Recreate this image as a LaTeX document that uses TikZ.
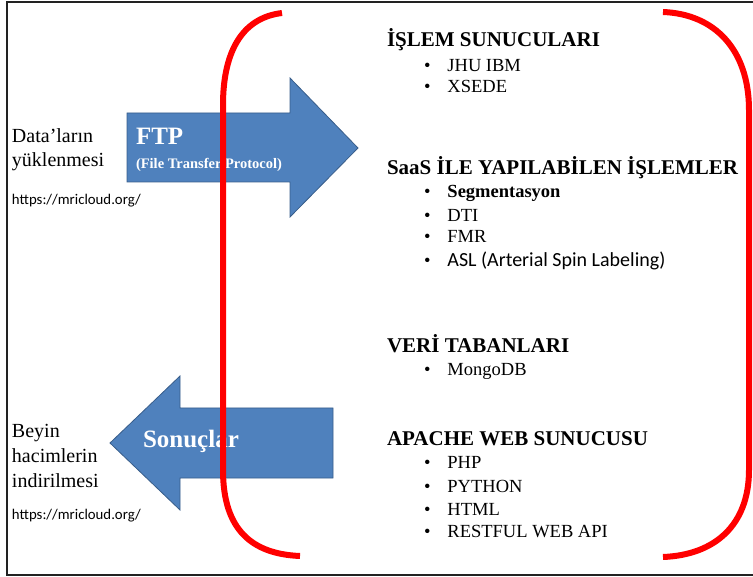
\documentclass[tikz,border=0pt]{standalone}
\usepackage{fontspec}
\setmainfont{Liberation Serif}
\newfontfamily\calib{Carlito}
\definecolor{arrowblue}{HTML}{4F81BD}
\definecolor{arrowedge}{HTML}{385D8A}
\definecolor{framegray}{HTML}{222222}
\newcommand{\bul}{•\hspace{17pt}}
\begin{document}
\begin{tikzpicture}[x=1pt,y=-1pt,
  txt/.style={anchor=base west,inner sep=0pt,outer sep=0pt},
  head/.style={txt,font=\fontsize{21}{24}\selectfont\bfseries},
  item/.style={txt,font=\fontsize{18.5}{22}\selectfont},
  side/.style={txt,font=\fontsize{20}{24}\selectfont},
  url/.style={txt,font=\calib\fontsize{14.8}{17}\selectfont},
  blk/.style={fill=arrowblue,draw=arrowedge,line width=0.8pt,line join=miter},
  brace/.style={draw=red,line width=6pt}]
\useasboundingbox (0,0) rectangle (753,577);
% frame
\draw[framegray,line width=2pt] (753,2) -- (7,2) -- (7,575) -- (753,575);
% blue arrows
\draw[blk] (127,113) -- (290,113) -- (290,78) -- (358,148) -- (290,217) -- (290,182) -- (127,182) -- cycle;
\draw[blk] (333,408) -- (180,408) -- (180,376) -- (110,443) -- (180,510) -- (180,478) -- (333,478) -- cycle;
\node[txt,text=white,font=\fontsize{25}{28}\selectfont\bfseries] (ftp) at (136,145) {FTP};
\node[txt,text=white,font=\fontsize{14.5}{16}\selectfont\bfseries] (ftpfull) at (136,169) {(File Transfer Protocol)};
\node[txt,text=white,font=\fontsize{25}{28}\selectfont\bfseries] (sonuc) at (143,448) {Sonuçlar};
% red brackets
\draw[brace] (282,13) .. controls (240,18) and (223,55) .. (223,105) -- (223,470) .. controls (223,530) and (252,554) .. (300,556);
\draw[brace] (663,12) .. controls (715,14) and (749,50) .. (749,110) -- (749,470) .. controls (749,525) and (715,555) .. (663,557);
% left texts
\node[side] (d1) at (12,143) {Data’ların};
\node[side] (d2) at (12,167) {yüklenmesi};
\node[url] (u1) at (12,205) {https://mricloud.org/};
\node[side] (b1) at (12,438) {Beyin};
\node[side] (b2) at (12,463) {hacimlerin};
\node[side] (b3) at (12,487) {indirilmesi};
\node[url] (u2) at (12,519) {https://mricloud.org/};
% right lists
\node[head] (h1) at (387,47) {İŞLEM SUNUCULARI};
\node[item] (i11) at (424,72) {\bul JHU IBM};
\node[item] (i12) at (424,93) {\bul XSEDE};
\node[head] (h2) at (387,175) {SaaS İLE YAPILABİLEN İŞLEMLER};
\node[item] (i21) at (424,198) {\bul\textbf{Segmentasyon}};
\node[item] (i22) at (424,222) {\bul DTI};
\node[item] (i23) at (424,243) {\bul FMR};
\node[item] (i24) at (424,267) {\bul{\calib\fontsize{20}{22}\selectfont ASL (Arterial Spin Labeling)}};
\node[head] (h3) at (387,353) {VERİ TABANLARI};
\node[item] (i31) at (424,376) {\bul MongoDB};
\node[head] (h4) at (387,446) {APACHE WEB SUNUCUSU};
\node[item] (i41) at (424,468) {\bul PHP};
\node[item] (i42) at (424,492) {\bul PYTHON};
\node[item] (i43) at (424,515) {\bul HTML};
\node[item] (i44) at (424,537) {\bul RESTFUL WEB API};
\end{tikzpicture}
\end{document}
